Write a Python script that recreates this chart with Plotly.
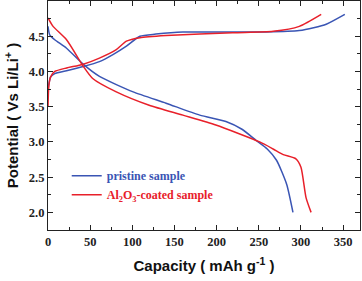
import plotly.graph_objects as go

# Pristine sample
blue_charge_x = [0, 1, 3, 8, 22, 42, 61, 77, 93, 109, 128, 160, 200, 259, 298, 315, 330, 352]
blue_charge_v = [3.74, 3.82, 3.92, 3.97, 4.01, 4.07, 4.14, 4.24, 4.36, 4.5, 4.53, 4.56, 4.56, 4.56, 4.58, 4.62, 4.67, 4.81]
blue_dis_x = [0, 2, 8, 22, 42, 61, 101, 140, 180, 211, 230, 247, 260, 271, 283, 290.5]
blue_dis_v = [4.64, 4.52, 4.45, 4.33, 4.1, 3.93, 3.71, 3.55, 3.38, 3.29, 3.18, 3.02, 2.9, 2.74, 2.4, 2.0]

# Al2O3-coated sample
red_charge_x = [0, 1, 3, 8, 22, 41, 61, 81, 93, 109, 140, 219, 267, 298, 324]
red_charge_v = [3.5, 3.8, 3.92, 4.0, 4.05, 4.1, 4.19, 4.31, 4.43, 4.48, 4.51, 4.55, 4.57, 4.64, 4.81]
red_dis_x = [0, 6, 22, 42, 53, 81, 120, 160, 199, 251, 267, 279, 294, 300, 306, 312]
red_dis_v = [4.76, 4.64, 4.45, 4.07, 3.90, 3.71, 3.52, 3.38, 3.24, 3.0, 2.9, 2.82, 2.76, 2.64, 2.21, 2.0]

x_ticks = [0, 50, 100, 150, 200, 250, 300, 350]
y_ticks = [2.0, 2.5, 3.0, 3.5, 4.0, 4.5]

BLUE = "#3a55b4"
RED = "#e8202a"

fig = go.Figure()
series = [
    (blue_charge_x, blue_charge_v, BLUE, "pristine", True,
     "<b><span style='color:%s'>pristine sample</span></b>" % BLUE),
    (blue_dis_x, blue_dis_v, BLUE, "pristine", False, ""),
    (red_charge_x, red_charge_v, RED, "coated", True,
     "<b><span style='color:%s'>Al<sub>2</sub>O<sub>3</sub>-coated sample</span></b>" % RED),
    (red_dis_x, red_dis_v, RED, "coated", False, ""),
]
for x, y, c, g, show, name in series:
    fig.add_trace(go.Scatter(
        x=x, y=y, mode="lines", line=dict(color=c, width=1.5, shape="spline", smoothing=0.6),
        legendgroup=g, showlegend=show, name=name))

tickfont = dict(family="Liberation Serif", size=12.5, color="#222", weight="bold")
common = dict(ticks="inside", ticklen=5, tickwidth=1.2, tickcolor="#222", automargin=False,
              showline=True, linecolor="#222", linewidth=1.2, mirror="ticks",
              showgrid=False, zeroline=False, tickfont=tickfont)
fig.update_xaxes(range=[0, 370], tickmode="array", tickvals=x_ticks,
                 ticktext=["<b>%d</b>" % v for v in x_ticks],
                 minor=dict(dtick=25, ticks="inside", ticklen=3, tickcolor="#222", showgrid=False),
                 title=dict(text="<b>Capacity ( mAh g<sup>-1</sup> )</b>",
                            font=dict(family="Liberation Sans", size=15, color="#111"), standoff=12),
                 **common)
fig.update_yaxes(range=[1.75, 5.0], tickmode="array", tickvals=y_ticks,
                 ticktext=["<b>%.1f</b>" % v for v in y_ticks],
                 minor=dict(dtick=0.25, ticks="inside", ticklen=3, tickcolor="#222", showgrid=False),
                 title=dict(text="<b>Potential ( Vs Li/Li<sup>+</sup> )</b>",
                            font=dict(family="Liberation Sans", size=15, color="#111"), standoff=6),
                 **common)
fig.update_layout(
    width=362, height=281, margin=dict(l=48, r=2, t=1, b=51, autoexpand=False),
    paper_bgcolor="white", plot_bgcolor="white",
    legend=dict(x=0.06, y=0.3, xanchor="left", yanchor="top", bgcolor="rgba(0,0,0,0)",
                font=dict(family="Liberation Serif", size=12), tracegroupgap=0,
                itemwidth=30),
)
fig.write_html("out.html", config={"displayModeBar": False},
               post_script="document.body.style.margin='0';document.body.style.padding='0';")
